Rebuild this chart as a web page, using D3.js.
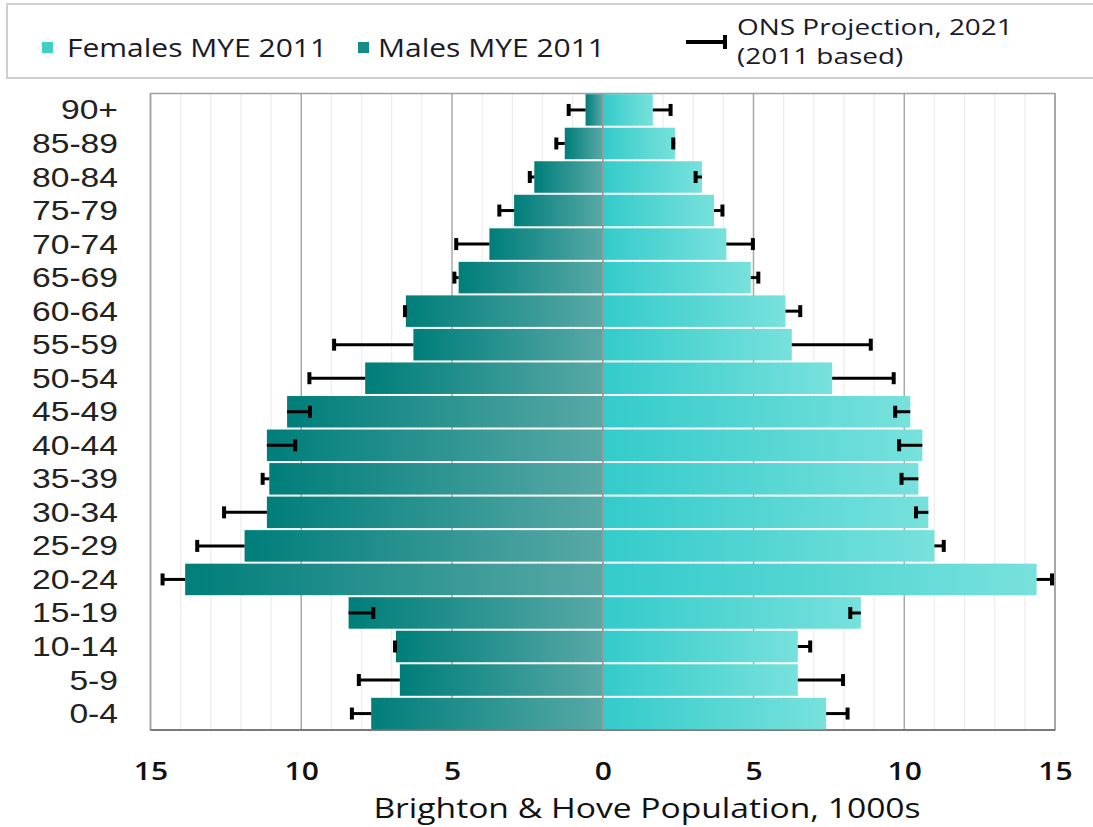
<!DOCTYPE html>
<html>
<head>
<meta charset="utf-8">
<script src="https://cdn.jsdelivr.net/npm/d3@7"></script>
<style>
  body { margin: 0; background: #fff; }
  svg { display: block; }
</style>
</head>
<body>
<div id="chart"></div>
<script>
// age bands, youngest first (thousands of people)
const ages = ["0-4", "5-9", "10-14", "15-19", "20-24", "25-29", "30-34", "35-39", "40-44",
  "45-49", "50-54", "55-59", "60-64", "65-69", "70-74", "75-79", "80-84", "85-89", "90+"];
const males = [7.68, 6.73, 6.86, 8.43, 13.85, 11.88, 11.14, 11.06, 11.14,
  10.47, 7.88, 6.28, 6.53, 4.78, 3.76, 2.94, 2.27, 1.26, 0.57];
const malesProj = [8.32, 8.09, 6.89, 7.61, 14.6, 13.45, 12.56, 11.28, 10.2,
  9.71, 9.73, 8.91, 6.56, 4.92, 4.86, 3.43, 2.42, 1.54, 1.13];
const females = [7.41, 6.47, 6.47, 8.56, 14.39, 11.0, 10.8, 10.47, 10.6,
  10.2, 7.61, 6.27, 6.06, 4.91, 4.1, 3.69, 3.29, 2.4, 1.66];
const femalesProj = [8.12, 7.97, 6.88, 8.21, 14.9, 11.31, 10.39, 9.91, 9.83,
  9.7, 9.65, 8.89, 6.55, 5.16, 4.98, 3.97, 3.08, 2.34, 2.25];
const xTicks = [-15, -10, -5, 0, 5, 10, 15];

const width = 1093, height = 827;
const stretch = 1.2; // text in the original is widened

const svg = d3.select("#chart").append("svg")
  .attr("width", width)
  .attr("height", height);

const defs = svg.append("defs");
const gm = defs.append("linearGradient").attr("id", "gradM");
gm.append("stop").attr("offset", "0%").attr("stop-color", "#007e7a");
gm.append("stop").attr("offset", "100%").attr("stop-color", "#58a9a6");
const gf = defs.append("linearGradient").attr("id", "gradF");
gf.append("stop").attr("offset", "0%").attr("stop-color", "#33cbca");
gf.append("stop").attr("offset", "100%").attr("stop-color", "#78e1dc");

const plotTop = 93.5, plotBottom = 730;
const x = d3.scaleLinear().domain([-15, 15]).range([150.5, 1055]);
const y = d3.scaleBand().domain(ages.slice().reverse()).range([plotTop, plotBottom])
  .paddingInner(0.06).paddingOuter(0.02);

// grid
svg.append("g").selectAll("line")
  .data(d3.range(-15, 16))
  .join("line")
  .attr("x1", d => x(d)).attr("x2", d => x(d))
  .attr("y1", plotTop).attr("y2", plotBottom)
  .attr("stroke", d => d % 5 === 0 ? "#a8a8a8" : "#ececec")
  .attr("stroke-width", d => d % 5 === 0 ? 1.5 : 1.2);

// frame
svg.append("rect")
  .attr("x", x(-15)).attr("y", plotTop)
  .attr("width", x(15) - x(-15)).attr("height", plotBottom - plotTop)
  .attr("fill", "none").attr("stroke", "#a0a0a0").attr("stroke-width", 1.5);
svg.append("line")
  .attr("x1", x(-15)).attr("x2", x(15)).attr("y1", plotBottom).attr("y2", plotBottom)
  .attr("stroke", "#666").attr("stroke-width", 1.5);

// bars
const rows = ages.map((a, i) => ({ age: a, m: males[i], mp: malesProj[i], f: females[i], fp: femalesProj[i] }));

svg.append("g").selectAll("rect")
  .data(rows)
  .join("rect")
  .attr("x", d => x(-d.m))
  .attr("y", d => y(d.age))
  .attr("width", d => x(0) - x(-d.m))
  .attr("height", y.bandwidth())
  .attr("fill", "url(#gradM)");

svg.append("g").selectAll("rect")
  .data(rows)
  .join("rect")
  .attr("x", x(0))
  .attr("y", d => y(d.age))
  .attr("width", d => x(d.f) - x(0))
  .attr("height", y.bandwidth())
  .attr("fill", "url(#gradF)");

// centre line
svg.append("line")
  .attr("x1", x(0)).attr("x2", x(0)).attr("y1", plotTop).attr("y2", plotBottom)
  .attr("stroke", "#9a9a9a").attr("stroke-width", 1.5);

// projection error bars
const errs = svg.append("g").attr("stroke", "#000");
const cy = d => y(d.age) + y.bandwidth() / 2;
errs.selectAll(".em")
  .data(rows)
  .join("line")
  .attr("x1", d => x(-d.m)).attr("x2", d => x(-d.mp))
  .attr("y1", cy).attr("y2", cy)
  .attr("stroke-width", 3);
errs.selectAll(".emc")
  .data(rows)
  .join("line")
  .attr("x1", d => x(-d.mp)).attr("x2", d => x(-d.mp))
  .attr("y1", d => cy(d) - 6).attr("y2", d => cy(d) + 6)
  .attr("stroke-width", 4);
errs.selectAll(".ef")
  .data(rows)
  .join("line")
  .attr("x1", d => x(d.f)).attr("x2", d => x(d.fp))
  .attr("y1", cy).attr("y2", cy)
  .attr("stroke-width", 3);
errs.selectAll(".efc")
  .data(rows)
  .join("line")
  .attr("x1", d => x(d.fp)).attr("x2", d => x(d.fp))
  .attr("y1", d => cy(d) - 6).attr("y2", d => cy(d) + 6)
  .attr("stroke-width", 4);

// age labels
svg.append("g").selectAll("text")
  .data(ages)
  .join("text")
  .attr("x", 118)
  .attr("y", d => y(d) + y.bandwidth() / 2)
  .attr("dy", "0.34em")
  .attr("text-anchor", "end")
  .attr("font-family", "'Liberation Sans', Arial, sans-serif")
  .attr("font-size", 28)
  .attr("fill", "#222")
  .text(d => d);

// x axis labels
const xAxis = svg.append("g")
  .attr("transform", `translate(0,${plotBottom})`)
  .call(d3.axisBottom(x).tickValues(xTicks).tickFormat(d => Math.abs(d)).tickSize(0).tickPadding(32));
xAxis.select(".domain").remove();
xAxis.selectAll("text")
  .attr("font-family", "'Open Sans', sans-serif")
  .attr("font-size", 25)
  .attr("font-weight", 600)
  .attr("fill", "#111");

svg.append("text")
  .attr("x", 647).attr("y", 818)
  .attr("text-anchor", "middle")
  .attr("font-family", "'Open Sans', sans-serif")
  .attr("font-size", 28)
  .attr("font-weight", 500)
  .attr("fill", "#111")
  .text("Brighton & Hove Population, 1000s");

// legend
svg.append("rect")
  .attr("x", 7).attr("y", 4).attr("width", 1100).attr("height", 74)
  .attr("fill", "none").attr("stroke", "#cfcfcf").attr("stroke-width", 2);

const legendFont = "'Open Sans', sans-serif";
const legendItems = [
  { label: "Females MYE 2011", fill: "#3fd0cc", sx: 42, tx: 67 },
  { label: "Males MYE 2011", fill: "#158c88", sx: 358, tx: 378 }
];
const lg = svg.append("g");
lg.selectAll("rect")
  .data(legendItems)
  .join("rect")
  .attr("x", d => d.sx).attr("y", 42)
  .attr("width", 11).attr("height", 11)
  .attr("fill", d => d.fill);
lg.selectAll("text")
  .data(legendItems)
  .join("text")
  .attr("x", d => d.tx).attr("y", 57)
  .attr("font-family", legendFont)
  .attr("font-size", 25)
  .attr("fill", "#1a1a2a")
  .text(d => d.label);

lg.append("line")
  .attr("x1", 686).attr("x2", 725).attr("y1", 42).attr("y2", 42)
  .attr("stroke", "#000").attr("stroke-width", 4);
lg.append("line")
  .attr("x1", 725).attr("x2", 725).attr("y1", 35).attr("y2", 49)
  .attr("stroke", "#000").attr("stroke-width", 4);
lg.append("text")
  .attr("x", 737).attr("y", 35)
  .attr("data-stretch", 1.33)
  .attr("font-family", legendFont).attr("font-size", 21).attr("fill", "#1a1a2a")
  .text("ONS Projection, 2021");
lg.append("text")
  .attr("x", 737).attr("y", 64)
  .attr("data-stretch", 1.33)
  .attr("font-family", legendFont).attr("font-size", 21).attr("fill", "#1a1a2a")
  .text("(2011 based)");

// widen all text a little like the source image
svg.selectAll("text").each(function() {
  const w = this.getComputedTextLength();
  const s = +(this.getAttribute("data-stretch") || stretch);
  d3.select(this).attr("textLength", w * s).attr("lengthAdjust", "spacingAndGlyphs");
});
</script>
</body>
</html>
